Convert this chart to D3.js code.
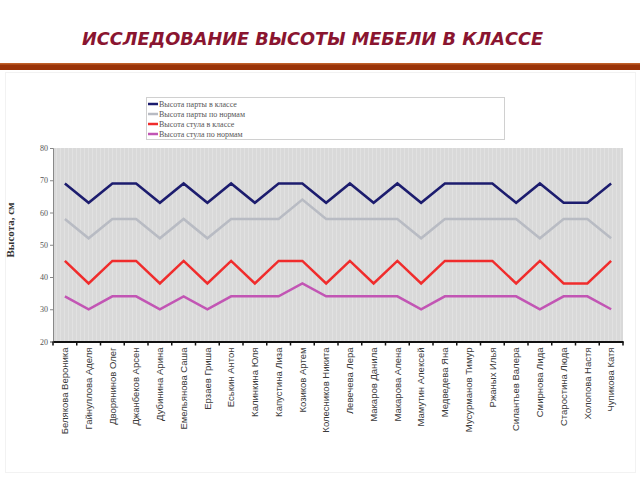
<!DOCTYPE html>
<html lang="ru">
<head>
<meta charset="UTF-8">
<title>Исследование высоты мебели в классе</title>
<script src="https://cdn.jsdelivr.net/npm/d3@7/dist/d3.min.js"></script>
<style>
  body { margin: 0; background: #fff; }
</style>
</head>
<body>
<svg width="640" height="480"></svg>
<script>
// данные
var names = ["Белякова Вероника", "Гайнуллова Аделя", "Дворянинов Олег", "Джанбеков Арсен",
  "Дубинина Арина", "Емельянова Саша", "Ерзаев Гриша", "Еськин Антон", "Калинкина Юля",
  "Капустина Лиза", "Козиков Артем", "Колесников Никита", "Левечева Лера", "Макаров Данила",
  "Макарова Алена", "Мамутин Алексей", "Медведева Яна", "Мусурманов Тимур", "Ржаных Илья",
  "Силантьев Валера", "Смирнова Лида", "Старостина Люда", "Холопова Настя", "Чупикова Катя"];

var deskClass = [69, 63, 69, 69, 63, 69, 63, 69, 63, 69, 69, 63, 69, 63, 69, 63, 69, 69, 69, 63, 69, 63, 63, 69];
var deskNorm  = [58, 52, 58, 58, 52, 58, 52, 58, 58, 58, 64, 58, 58, 58, 58, 52, 58, 58, 58, 58, 52, 58, 58, 52];
var chairClass = [45, 38, 45, 45, 38, 45, 38, 45, 38, 45, 45, 38, 45, 38, 45, 38, 45, 45, 45, 38, 45, 38, 38, 45];
var chairNorm  = [34, 30, 34, 34, 30, 34, 30, 34, 34, 34, 38, 34, 34, 34, 34, 30, 34, 34, 34, 34, 30, 34, 34, 30];

var seriesNames = ["Высота парты в классе", "Высота парты по нормам", "Высота стула в классе", "Высота стула по нормам"];
var seriesColors = ["#1c1c6e", "#b8bbc3", "#f02c2c", "#c255b4"];
var yTicks = [20, 30, 40, 50, 60, 70, 80];

var series = [deskClass, deskNorm, chairClass, chairNorm];

var svg = d3.select("svg");

// заголовок и полоса
svg.append("text")
  .attr("x", 82).attr("y", 45)
  .attr("textLength", 461).attr("lengthAdjust", "spacingAndGlyphs")
  .style("font-family", "DejaVu Sans")
  .style("font-weight", "bold").style("font-style", "italic")
  .style("font-size", "18px")
  .attr("fill", "#8a1530")
  .text("ИССЛЕДОВАНИЕ ВЫСОТЫ МЕБЕЛИ В КЛАССЕ");

svg.append("rect").attr("x", 0).attr("y", 63).attr("width", 640).attr("height", 7).attr("fill", "#9a3409");
svg.append("rect").attr("x", 0).attr("y", 63).attr("width", 640).attr("height", 1.5).attr("fill", "#c0602a");

// рамка слайда
svg.append("rect").attr("x", 5.5).attr("y", 72.5).attr("width", 630).attr("height", 400)
  .attr("fill", "none").attr("stroke", "#f2f2f2");

// шкалы
var x = d3.scaleBand().domain(names).range([53, 623]);
var y = d3.scaleLinear().domain([20, 80]).range([341.5, 148]);

// фон области графика (полосатый)
var defs = svg.append("defs");
var pat = defs.append("pattern").attr("id", "stripes")
  .attr("patternUnits", "userSpaceOnUse").attr("width", 4).attr("height", 10);
pat.append("rect").attr("width", 4).attr("height", 10).attr("fill", "#d9d9d9");
pat.append("rect").attr("x", 0).attr("width", 1).attr("height", 10).attr("fill", "#e1e1e1");

svg.append("rect")
  .attr("x", 53).attr("y", y(80))
  .attr("width", 570).attr("height", y(20) - y(80))
  .attr("fill", "url(#stripes)");

// ось Y
var yAxis = svg.append("g")
  .attr("transform", "translate(53,0)")
  .call(d3.axisLeft(y).tickValues(yTicks).tickSize(3).tickFormat(d3.format("d")));
yAxis.select(".domain").attr("stroke", "#888");
yAxis.selectAll(".tick line").attr("stroke", "#888");
yAxis.selectAll("text")
  .style("font-family", "Liberation Serif").style("font-size", "8px")
  .attr("fill", "#555").attr("x", -5);

svg.append("text")
  .attr("transform", "translate(14,230) rotate(-90)")
  .attr("text-anchor", "middle")
  .style("font-family", "Liberation Serif").style("font-size", "11px").style("font-weight", "bold")
  .attr("fill", "#333")
  .text("Высота, см");

// ось X
var xAxis = svg.append("g")
  .attr("transform", "translate(0," + y(20) + ")")
  .call(d3.axisBottom(x).tickSize(0).tickSizeOuter(0));
xAxis.select(".domain").attr("stroke", "#111").attr("stroke-width", 2);
xAxis.selectAll("text")
  .attr("transform", "rotate(-90)")
  .attr("text-anchor", "end")
  .attr("x", -6).attr("y", 0).attr("dy", "0.35em")
  .style("font-family", "Liberation Sans").style("font-size", "9.5px")
  .attr("fill", "#3a3a3a");

// засечки на границах категорий
svg.append("g").selectAll("line")
  .data(names.concat(["__end"]))
  .enter().append("line")
  .attr("x1", function (d) { return d === "__end" ? x.range()[1] : x(d); })
  .attr("x2", function (d) { return d === "__end" ? x.range()[1] : x(d); })
  .attr("y1", y(20)).attr("y2", y(20) + 4)
  .attr("stroke", "#111").attr("stroke-width", 1.5);

// линии
var line = d3.line()
  .x(function (d, i) { return x(names[i]) + x.bandwidth() / 2; })
  .y(function (d) { return y(d); });

svg.append("g").selectAll("path")
  .data(series)
  .enter().append("path")
  .attr("d", line)
  .attr("fill", "none")
  .attr("stroke", function (d, i) { return seriesColors[i]; })
  .attr("stroke-width", 2.5)
  .attr("stroke-linejoin", "miter");

// легенда
var legend = svg.append("g");
legend.append("rect")
  .attr("x", 146.5).attr("y", 97.5).attr("width", 358).attr("height", 42)
  .attr("fill", "#fff").attr("stroke", "#d0d0d0");

var items = legend.selectAll("g.item")
  .data(seriesNames)
  .enter().append("g")
  .attr("transform", function (d, i) { return "translate(148," + (104 + i * 10) + ")"; });
items.append("line")
  .attr("x1", 0).attr("x2", 10).attr("y1", 0).attr("y2", 0)
  .attr("stroke", function (d, i) { return seriesColors[i]; })
  .attr("stroke-width", 2.5);
items.append("text")
  .attr("x", 11).attr("y", 0).attr("dy", "0.35em")
  .style("font-family", "Liberation Serif").style("font-size", "8px")
  .attr("fill", "#555")
  .text(function (d) { return d; });
</script>
</body>
</html>
